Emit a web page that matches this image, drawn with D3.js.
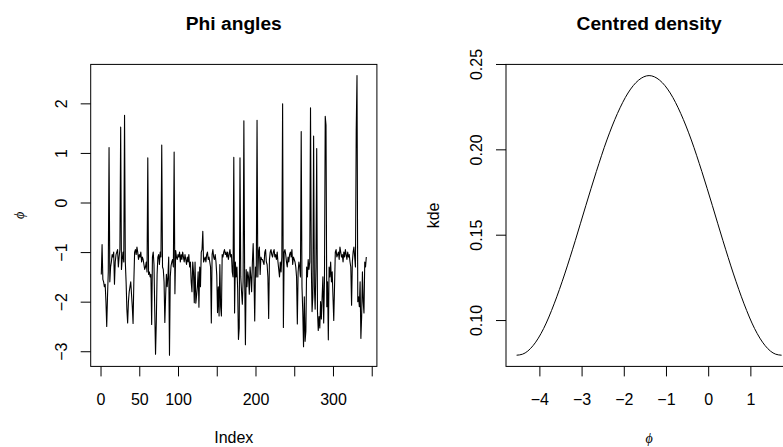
<!DOCTYPE html>
<html><head><meta charset="utf-8">
<script src="https://cdn.jsdelivr.net/npm/d3@7"></script>
<style>
html,body{margin:0;padding:0;background:#fff;}
svg text{font-family:"Liberation Sans",Arial,Helvetica,sans-serif;fill:#000;}
</style></head>
<body>
<svg id="chart" width="783" height="447"></svg>
<script>
// ---- Left panel: Phi angles series (index 1..343) ----
const phi = [
-1.45,-0.85,-1.55,-1.6,-1.7,-1.65,-2.0,-2.5,-1.9,-1.4,
1.11,-1.6,-1.3,-1.2,-1.05,-1.1,-1.0,-1.65,-1.2,-1.05,
-1.0,-0.95,-1.3,-1.1,-0.95,1.52,-1.35,-1.15,-1.0,-1.2,
1.76,-1.2,-1.6,-2.15,-2.43,-2.0,-1.8,-1.7,-1.6,-1.85,
-2.1,-2.44,-1.6,-1.0,-0.95,-1.05,-0.9,-1.0,-1.15,-1.05,
-1.1,-1.0,-1.2,-1.1,-1.15,-1.25,-1.35,-1.3,-1.2,-1.4,
0.90,-1.45,-1.4,-1.5,-1.45,-2.46,-1.1,-1.0,-1.25,-2.2,
-3.06,-2.4,-1.45,-1.1,-1.05,-1.25,-1.0,-1.1,1.16,-1.3,
-1.35,-1.6,-2.42,-1.9,-1.45,-1.7,-1.5,-1.1,-3.08,-1.5,
-1.28,-1.2,-1.15,-1.3,1.02,-1.84,-0.97,-1.1,-1.15,-1.05,
-1.1,-1.0,-1.2,-1.05,-1.15,-1.0,-1.1,-1.2,-1.05,-1.15,
-1.25,-1.1,-1.2,-1.05,-1.3,-1.2,-1.6,-1.8,-1.2,-1.4,
-2.02,-1.2,-2.03,-1.87,-1.7,-1.4,-2.11,-1.3,-1.7,-1.0,
-0.95,-0.58,-1.2,-1.15,-1.1,-1.2,-1.05,-1.0,-1.15,-1.1,
-1.2,-1.3,-2.43,-1.05,-0.95,-1.1,-1.15,-1.05,-1.2,-1.46,
-2.22,-1.7,-2.29,-1.25,-2.1,-2.29,-1.05,-1.1,-1.0,-0.95,
-1.05,-1.0,-1.1,-1.0,-1.15,-1.05,-0.95,-1.1,-1.05,-1.4,
-1.5,0.91,-2.23,-1.2,-1.5,-1.3,-1.75,-2.76,-2.53,0.90,
-1.5,-1.8,-2.05,-1.6,1.65,-1.5,-2.87,-1.35,-1.7,-1.4,
-1.5,-1.85,-1.3,-1.5,-1.8,-1.2,-0.83,-1.45,-2.39,-1.3,
-1.5,1.66,-1.5,-1.0,-0.9,-1.45,-1.1,-1.15,-1.15,-1.2,
-1.25,-1.0,-0.95,-1.2,-1.25,-1.5,-2.34,-1.15,-1.0,-0.95,
-1.05,-1.1,-1.0,-0.95,-1.1,-1.05,-1.15,-1.0,-1.2,-1.35,
-1.5,-1.2,-1.4,-1.1,1.99,-2.52,-1.0,-0.95,-1.05,-1.2,
-1.3,-1.1,-1.2,-1.05,-1.0,-1.1,-0.95,-1.25,-1.1,-1.15,
-1.2,-1.3,-1.5,-2.45,-1.4,-1.2,-1.3,-1.5,1.43,-1.7,
-2.2,-2.91,-1.9,-2.8,-2.6,-1.3,-1.5,-1.15,-1.35,-1.2,
1.91,-1.25,-2.2,-1.9,1.34,-1.7,-2.15,-1.3,1.09,-2.2,
-2.58,-2.3,-2.53,-2.0,-2.35,-1.9,-1.5,-2.43,-1.6,1.74,
1.56,-2.1,-1.6,-2.77,-1.3,-1.5,-1.2,-1.6,-1.4,-1.9,
-2.38,-1.7,-1.0,-0.95,-1.1,-1.05,-1.0,-1.15,-0.9,-1.0,
-1.1,-1.05,-1.2,-1.0,-1.1,-0.95,-1.05,-1.15,-1.0,-1.1,
-1.05,-1.2,-1.3,-2.07,-1.2,-1.0,-0.9,-1.1,-1.3,1.46,
2.56,-2.0,-1.9,-2.1,-1.6,-2.74,-2.3,-1.4,-2.0,-2.23,
-1.2,-1.3,-1.1
];
const leftXTicks = [0,50,100,150,200,250,300,350];
const leftXLabels = [0,50,100,200,300];
const leftYTicks = [-3,-2,-1,0,1,2];

// ---- Right panel: centred density ----
const densX = [-4.54,-4.40,-4.15,-3.90,-3.65,-3.40,-3.15,-2.90,-2.65,-2.40,-2.15,-1.90,-1.65,-1.40,
               -1.15,-0.90,-0.65,-0.40,-0.15,0.10,0.35,0.60,0.85,1.10,1.35,1.60,1.74];
const densY = [0.0794,0.0800,0.0850,0.0950,0.1095,0.1270,0.1465,0.1670,0.1870,0.2055,0.2210,0.2330,0.2405,0.2432,
               0.2405,0.2330,0.2210,0.2055,0.1870,0.1670,0.1465,0.1270,0.1095,0.0950,0.0850,0.0800,0.0794];
const rightXTicks = [-4,-3,-2,-1,0,1];
const rightYTicks = [0.10,0.15,0.20,0.25];

const svg = d3.select("#chart");
const pad = ([a,b]) => { const d=(b-a)*0.04; return [a-d,b+d]; };
const yTop = 64.4, yBot = 366.4;
const FS = 16;
const fmtInt = d => d3.format("")(d).replace("-","\u2212");

function panel(opts){
  const {x0,x1,xs,ys,xTicks,xLabelSet,yTicks,yFmt,title,xlab,ylab,ylabItalic,xlabItalic} = opts;
  const g = svg.append("g");
  const ax = d3.axisBottom(xs).tickValues(xTicks).tickSize(10).tickSizeOuter(0)
     .tickFormat(d => xLabelSet ? (xLabelSet.includes(d) ? fmtInt(d) : "") : fmtInt(d));
  g.append("g").attr("transform",`translate(0,${yBot})`).call(ax)
   .call(a=>a.select(".domain").remove())
   .call(a=>a.selectAll("line").attr("stroke","#000"))
   .call(a=>a.selectAll("text").attr("y",38.6).attr("dy",null).attr("font-size",FS).attr("font-family",null));
  const ay = d3.axisLeft(ys).tickValues(yTicks).tickSize(10).tickSizeOuter(0).tickFormat(yFmt);
  g.append("g").attr("transform",`translate(${x0},0)`).call(ay)
   .call(a=>a.select(".domain").remove())
   .call(a=>a.selectAll("line").attr("stroke","#000"))
   .call(a=>a.selectAll("text").attr("x",null).attr("dy",null).attr("font-size",FS).attr("font-family",null)
        .attr("text-anchor","middle").attr("transform","translate(-24.2,0) rotate(-90)"));
  g.append("rect").attr("x",x0).attr("y",yTop).attr("width",x1-x0).attr("height",yBot-yTop)
   .attr("fill","none").attr("stroke","#000").attr("stroke-width",1);
  g.append("text").attr("x",(x0+x1)/2).attr("y",30).attr("text-anchor","middle")
   .attr("font-size",19.2).attr("font-weight","bold").text(title);
  const xl = g.append("text").attr("x",(x0+x1)/2).attr("y",442.5).attr("text-anchor","middle")
   .attr("font-size", xlabItalic?14:FS).text(xlab);
  if(xlabItalic) xl.attr("font-style","italic").style("font-family","'Liberation Serif','DejaVu Serif',serif");
  const yl = g.append("text").attr("transform",`translate(${x0-67},${(yTop+yBot)/2}) rotate(-90)`)
   .attr("text-anchor","middle").attr("font-size", ylabItalic?14:FS).text(ylab);
  if(ylabItalic) yl.attr("font-style","italic").style("font-family","'Liberation Serif','DejaVu Serif',serif");
  return g;
}

// Left
const lx0 = 90.7, lx1 = 376.9;
const xL = d3.scaleLinear().domain(pad([1, phi.length])).range([lx0, lx1]);
const yL = d3.scaleLinear().domain(pad(d3.extent(phi))).range([yBot, yTop]);
const gl = panel({x0:lx0,x1:lx1,xs:xL,ys:yL,xTicks:leftXTicks,xLabelSet:leftXLabels,yTicks:leftYTicks,
  yFmt:fmtInt,title:"Phi angles",xlab:"Index",ylab:"\u03D5",ylabItalic:true});
gl.append("path").datum(phi)
  .attr("d", d3.line().x((d,i)=>xL(i+1)).y(d=>yL(d)))
  .attr("fill","none").attr("stroke","#000").attr("stroke-width",1.1).attr("stroke-linejoin","round");

// Right
const rx0 = 506, rx1 = 792.2;
const xR = d3.scaleLinear().domain(pad(d3.extent(densX))).range([rx0, rx1]);
const yR = d3.scaleLinear().domain(pad(d3.extent(densY))).range([yBot, yTop]);
const gr = panel({x0:rx0,x1:rx1,xs:xR,ys:yR,xTicks:rightXTicks,xLabelSet:null,yTicks:rightYTicks,
  yFmt:d3.format(".2f"),title:"Centred density",xlab:"\u03D5",xlabItalic:true,ylab:"kde"});
gr.append("path").datum(densX.map((x,i)=>[x,densY[i]]))
  .attr("d", d3.line().x(d=>xR(d[0])).y(d=>yR(d[1])).curve(d3.curveMonotoneX))
  .attr("fill","none").attr("stroke","#000").attr("stroke-width",1);
</script>
</body></html>
